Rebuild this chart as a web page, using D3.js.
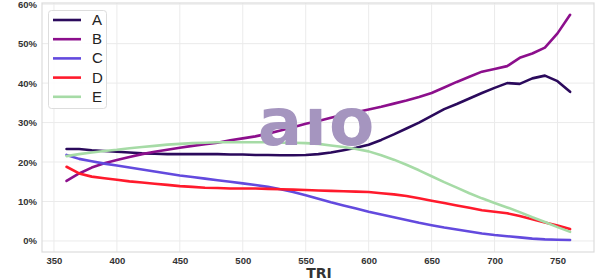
<!DOCTYPE html>
<html>
<head>
<meta charset="utf-8">
<script src="https://cdn.jsdelivr.net/npm/d3@7"></script>
<style>
  body { margin: 0; background: #fff; }
  svg { display: block; font-family: "DejaVu Sans", sans-serif; }
</style>
</head>
<body>
<div id="chart"></div>
<script>
// TRI values (x)
const tri = [360, 370, 380, 390, 400, 410, 420, 430, 440, 450, 460, 470, 480, 490, 500,
  510, 520, 530, 540, 550, 560, 570, 580, 590, 600, 610, 620, 630, 640, 650,
  660, 670, 680, 690, 700, 710, 720, 730, 740, 750, 760]

// series, in %
const seriesA = [23.3, 23.3, 23.0, 22.8, 22.6, 22.4, 22.2, 22.1, 22.0, 22.0, 22.0, 22.0, 22.0, 21.9, 21.9,
  21.8, 21.8, 21.7, 21.7, 21.8, 22.0, 22.4, 23.0, 23.6, 24.4, 25.6, 27.0, 28.5, 30.0, 31.7,
  33.4, 34.7, 36.1, 37.5, 38.8, 40.0, 39.8, 41.2, 41.9, 40.5, 37.8]
const seriesB = [15.2, 17.1, 18.6, 19.7, 20.5, 21.3, 22.0, 22.6, 23.1, 23.6, 24.1, 24.5, 24.9, 25.5, 26.0,
  26.5, 27.2, 28.0, 28.8, 29.7, 30.4, 31.2, 32.0, 32.6, 33.3, 34.0, 34.8, 35.6, 36.5, 37.5,
  38.9, 40.3, 41.6, 42.9, 43.6, 44.3, 46.4, 47.5, 49.0, 52.6, 57.3]
const seriesC = [21.8, 20.8, 20.2, 19.6, 19.1, 18.6, 18.1, 17.6, 17.1, 16.6, 16.2, 15.8, 15.4, 15.0, 14.6,
  14.2, 13.7, 13.1, 12.4, 11.6, 10.7, 9.8, 9.0, 8.2, 7.4, 6.7, 6.0, 5.3, 4.6, 4.0,
  3.4, 2.9, 2.4, 1.9, 1.5, 1.2, 0.9, 0.6, 0.4, 0.3, 0.25]
const seriesD = [18.8, 17.1, 16.3, 15.9, 15.5, 15.1, 14.8, 14.5, 14.2, 13.9, 13.7, 13.5, 13.4, 13.3, 13.3,
  13.3, 13.2, 13.1, 13.0, 12.9, 12.8, 12.7, 12.6, 12.5, 12.4, 12.1, 11.8, 11.4, 10.8, 10.2,
  9.6, 9.0, 8.4, 7.8, 7.4, 7.0, 6.3, 5.5, 4.7, 3.9, 3.0]
const seriesE = [21.5, 22.0, 22.4, 22.8, 23.1, 23.5, 23.8, 24.1, 24.4, 24.6, 24.8, 24.9, 25.0, 25.0, 25.0,
  25.0, 25.0, 24.9, 24.9, 24.8, 24.6, 24.2, 23.8, 23.3, 22.7, 21.7, 20.6, 19.3, 17.9, 16.4,
  14.9, 13.5, 12.1, 10.8, 9.6, 8.5, 7.3, 6.0, 4.8, 3.5, 2.3]

const names = ['A', 'B', 'C', 'D', 'E']
const colors = ['#2b0a5c', '#8c0f8c', '#634ade', '#ff1a2c', '#a6dba6']
const xTicks = [350, 400, 450, 500, 550, 600, 650, 700, 750]
const yTicks = [0, 10, 20, 30, 40, 50, 60]

const series = [seriesA, seriesB, seriesC, seriesD, seriesE]

const dimension = {
  width: 600,
  height: 280,
  margin: { top: 3, right: 6, bottom: 28, left: 42 }
}
const innerW = dimension.width - dimension.margin.left - dimension.margin.right
const innerH = dimension.height - dimension.margin.top - dimension.margin.bottom

const xScale = d3.scaleLinear()
  .domain([340.5, 779])
  .range([0, innerW])
const yScale = d3.scaleLinear()
  .domain([-2.8, 60.3])
  .range([innerH, 0])

const svg = d3.select('#chart')
  .append('svg')
  .attr('width', dimension.width)
  .attr('height', dimension.height)

const ctr = svg.append('g')
  .attr('transform', `translate(${dimension.margin.left}, ${dimension.margin.top})`)

// grid
ctr.append('g')
  .selectAll('line')
  .data(xTicks)
  .join('line')
  .attr('x1', d => xScale(d)).attr('x2', d => xScale(d))
  .attr('y1', 0).attr('y2', innerH)
  .attr('stroke', '#ebebeb')
  .attr('stroke-width', 1)
ctr.append('g')
  .selectAll('line')
  .data(yTicks)
  .join('line')
  .attr('y1', d => yScale(d)).attr('y2', d => yScale(d))
  .attr('x1', 0).attr('x2', innerW)
  .attr('stroke', '#ebebeb')
  .attr('stroke-width', 1)

// frame
ctr.append('rect')
  .attr('width', innerW)
  .attr('height', innerH)
  .attr('fill', 'none')
  .attr('stroke', '#dcdcdc')
  .attr('stroke-width', 1.2)

// axes
const xAxis = d3.axisBottom(xScale).tickValues(xTicks).tickSize(0).tickPadding(5)
const yAxis = d3.axisLeft(yScale).tickValues(yTicks).tickSize(0).tickPadding(5)
  .tickFormat(d => d + '%')

const xAxisGroup = ctr.append('g')
  .attr('transform', `translate(0, ${innerH})`)
  .call(xAxis)
const yAxisGroup = ctr.append('g').call(yAxis)

for (const g of [xAxisGroup, yAxisGroup]) {
  g.select('.domain').remove()
  g.selectAll('text')
    .attr('fill', '#333')
    .style('font-size', '9.5px')
    .style('font-weight', 'bold')
}

svg.append('text')
  .attr('x', dimension.margin.left + innerW / 2 + 1)
  .attr('y', 278)
  .attr('text-anchor', 'middle')
  .attr('fill', '#333')
  .style('font-size', '14px')
  .style('font-weight', 'bold')
  .text('TRI')

// watermark
svg.append('text')
  .attr('x', 317)
  .attr('y', 145)
  .attr('text-anchor', 'middle')
  .attr('fill', '#a595bf')
  .style('font-size', '66px')
  .style('font-weight', 'bold')
  .style('letter-spacing', '2px')
  .text('aıo')

// lines
const line = d3.line()
  .x((d, i) => xScale(tri[i]))
  .y(d => yScale(d))

ctr.append('g')
  .selectAll('path')
  .data(series)
  .join('path')
  .attr('d', line)
  .attr('fill', 'none')
  .attr('stroke', (d, i) => colors[i])
  .attr('stroke-width', 2.6)
  .attr('stroke-linejoin', 'round')
  .attr('stroke-linecap', 'round')

// legend
const legend = svg.append('g')
legend.append('rect')
  .attr('x', 48.5).attr('y', 10.5)
  .attr('width', 58).attr('height', 98)
  .attr('rx', 3)
  .attr('fill', 'rgba(255,255,255,0.85)')
  .attr('stroke', '#dddddd')

const rows = legend.selectAll('g.row')
  .data(names)
  .join('g')
  .attr('class', 'row')
  .attr('transform', (d, i) => `translate(0, ${20 + i * 19.2})`)
rows.append('line')
  .attr('x1', 53).attr('x2', 81)
  .attr('stroke', (d, i) => colors[i])
  .attr('stroke-width', 2.6)
rows.append('text')
  .attr('x', 92)
  .attr('y', 5)
  .attr('fill', '#222')
  .style('font-family', '"Liberation Sans", sans-serif')
  .style('font-size', '15px')
  .text(d => d)
</script>
</body>
</html>
